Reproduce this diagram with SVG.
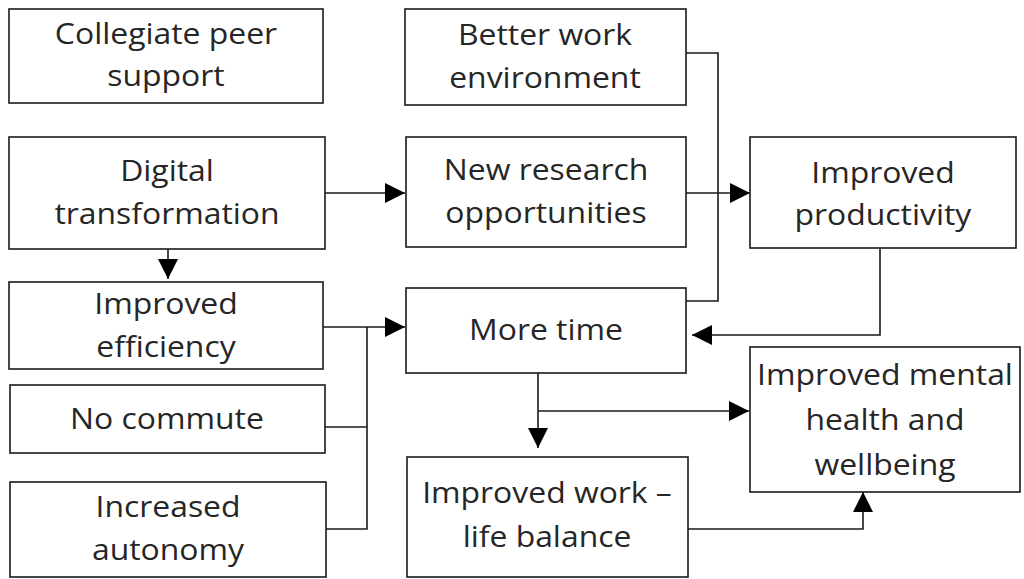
<svg xmlns="http://www.w3.org/2000/svg" width="1024" height="579" viewBox="0 0 1024 579">
  <style>
    .box { fill: #ffffff; stroke: #1a1a1a; stroke-width: 1.6; }
    .lbl { font-family: "Open Sans", "Liberation Sans", sans-serif; font-size: 29px; fill: #262626; text-anchor: middle;
           transform-box: fill-box; transform-origin: center; transform: scaleX(1.1); }
    .wire { fill: none; stroke: #1a1a1a; stroke-width: 1.6; }
  </style>
  <defs>
    <marker id="arrow" markerUnits="userSpaceOnUse" markerWidth="20" markerHeight="20" viewBox="0 0 18 18" refX="18" refY="9" orient="auto">
      <path d="M0 0 L18 9 L0 18 Z" fill="#000000"/>
    </marker>
  </defs>
  <rect width="1024" height="579" fill="#ffffff"/>

  <g id="connectors">
    <path class="wire" d="M325 193 H405" marker-end="url(#arrow)"/>
    <path class="wire" d="M168 249 V279" marker-end="url(#arrow)"/>
    <path class="wire" d="M323 327 H405" marker-end="url(#arrow)"/>
    <path class="wire" d="M325 427 H367"/>
    <path class="wire" d="M326 529 H367 V327"/>
    <path class="wire" d="M686 53 H718 V301 H686"/>
    <path class="wire" d="M686 193 H750" marker-end="url(#arrow)"/>
    <path class="wire" d="M880 249 V335 H692" marker-end="url(#arrow)"/>
    <path class="wire" d="M538 373 V448" marker-end="url(#arrow)"/>
    <path class="wire" d="M538 411 H749" marker-end="url(#arrow)"/>
    <path class="wire" d="M688 529 H863 V492" marker-end="url(#arrow)"/>
  </g>

  <g id="peer-support">
    <rect class="box" x="9" y="9" width="314" height="94"/>
    <text class="lbl" x="166" y="44">Collegiate peer</text>
    <text class="lbl" x="166" y="86">support</text>
  </g>

  <g id="digital-transformation">
    <rect class="box" x="9" y="137" width="316" height="112"/>
    <text class="lbl" x="167" y="181">Digital</text>
    <text class="lbl" x="167" y="224">transformation</text>
  </g>

  <g id="improved-efficiency">
    <rect class="box" x="9" y="282" width="314" height="87"/>
    <text class="lbl" x="166" y="314">Improved</text>
    <text class="lbl" x="166" y="357">efficiency</text>
  </g>

  <g id="no-commute">
    <rect class="box" x="10" y="385" width="315" height="68"/>
    <text class="lbl" x="167" y="429">No commute</text>
  </g>

  <g id="increased-autonomy">
    <rect class="box" x="10" y="482" width="316" height="95"/>
    <text class="lbl" x="168" y="517">Increased</text>
    <text class="lbl" x="168" y="560">autonomy</text>
  </g>

  <g id="better-work-environment">
    <rect class="box" x="405" y="9" width="281" height="96"/>
    <text class="lbl" x="545" y="45">Better work</text>
    <text class="lbl" x="545" y="88">environment</text>
  </g>

  <g id="new-research">
    <rect class="box" x="406" y="137" width="280" height="110"/>
    <text class="lbl" x="546" y="180">New research</text>
    <text class="lbl" x="546" y="223">opportunities</text>
  </g>

  <g id="more-time">
    <rect class="box" x="406" y="288" width="280" height="85"/>
    <text class="lbl" x="546" y="340">More time</text>
  </g>

  <g id="work-life-balance">
    <rect class="box" x="407" y="457" width="281" height="120"/>
    <text class="lbl" x="547" y="503">Improved work –</text>
    <text class="lbl" x="547" y="547">life balance</text>
  </g>

  <g id="improved-productivity">
    <rect class="box" x="750" y="137" width="266" height="111"/>
    <text class="lbl" x="883" y="183">Improved</text>
    <text class="lbl" x="883" y="225">productivity</text>
  </g>

  <g id="mental-health">
    <rect class="box" x="750" y="347" width="270" height="145"/>
    <text class="lbl" x="885" y="385">Improved mental</text>
    <text class="lbl" x="885" y="430">health and</text>
    <text class="lbl" x="885" y="475">wellbeing</text>
  </g>
</svg>
